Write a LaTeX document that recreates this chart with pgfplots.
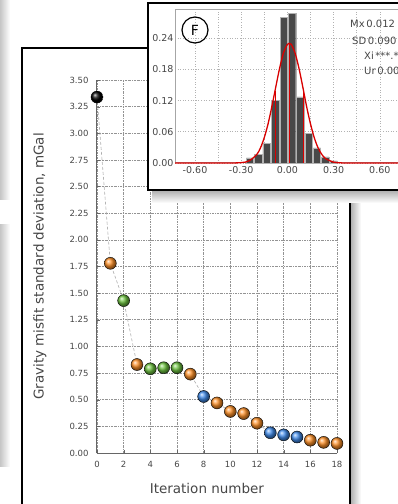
\documentclass[border=0pt]{standalone}
\usepackage{pgfplots}
\pgfplotsset{compat=1.18}
\usepackage{fontspec}
\setmainfont{DejaVu Sans}
\setsansfont{DejaVu Sans}
\definecolor{corange}{RGB}{255,145,40}
\definecolor{cgreen}{RGB}{110,195,65}
\definecolor{cblue}{RGB}{65,140,235}
\definecolor{cbar}{RGB}{72,72,72}
\definecolor{ctxt}{RGB}{70,70,70}
\begin{document}
\begin{tikzpicture}[x=1pt,y=1pt]
\useasboundingbox (0,0) rectangle (398,504);
\clip (0,0) rectangle (398,504);
% remnants of neighbouring panels
\shade[left color=gray!45, right color=white] (0,304) rectangle (10,504);
\shade[left color=gray!45, right color=white] (0,37) rectangle (10,279);
% main panel shadow and frame
\shade[left color=gray!60, right color=white] (351,0) rectangle (361,320);
\draw[line width=2.5pt] (22,-10) rectangle (350,456);

\begin{axis}[
  at={(97pt,51pt)}, anchor=south west, scale only axis,
  width=240pt, height=373pt,
  xmin=0, xmax=18, ymin=0, ymax=3.5,
  clip=false,
  separate axis lines,
  axis x line=bottom, axis y line=left,
  axis line style={-, gray!80!black, line width=1pt},
  xtick={0,2,...,18},
  ytick={0,0.25,0.5,0.75,1,1.25,1.5,1.75,2,2.25,2.5,2.75,3,3.25,3.5},
  yticklabel style={/pgf/number format/fixed, /pgf/number format/fixed zerofill, /pgf/number format/precision=2, xshift=-5pt},
  xticklabel style={yshift=-5pt},
  /pgf/number format/assume math mode=true,
  tick label style={font=\fontsize{8.5}{10}\selectfont, text=ctxt},
  tick style={gray!80!black},
  major tick length=3pt,
  tick align=inside,
  grid=major,
  major grid style={gray!85, line width=0.6pt, dash pattern=on 2pt off 1pt on 0.6pt off 1pt},
  xlabel={Iteration number},
  ylabel={Gravity misfit standard deviation, mGal},
  label style={font=\fontsize{13.5}{15}\selectfont, text=ctxt},
  xlabel style={at={(axis description cs:0.458,-0.094)}, anchor=center},
  ylabel style={at={(axis description cs:-0.2375,0.5)}, anchor=center},
]
\addplot[gray!65, densely dashed, line width=0.6pt] coordinates {
(0,3.34) (1,1.78) (2,1.43) (3,0.83) (4,0.79) (5,0.80) (6,0.80) (7,0.74)
(8,0.53) (9,0.47) (10,0.39) (11,0.37) (12,0.28) (13,0.19) (14,0.17)
(15,0.15) (16,0.12) (17,0.10) (18,0.09)};
\addplot[only marks, mark=ball, mark size=6pt, ball color=black] coordinates {(0,3.34)};
\addplot[only marks, mark=ball, mark size=6pt, ball color=corange] coordinates {
(1,1.78) (3,0.83) (7,0.74) (9,0.47) (10,0.39) (11,0.37) (12,0.28) (16,0.12) (17,0.10) (18,0.09)};
\addplot[only marks, mark=ball, mark size=6pt, ball color=cgreen] coordinates {
(2,1.43) (4,0.79) (5,0.80) (6,0.80)};
\addplot[only marks, mark=ball, mark size=6pt, ball color=cblue] coordinates {
(8,0.53) (13,0.19) (14,0.17) (15,0.15)};
\end{axis}

% inset shadow and frame
\shade[top color=gray!65, bottom color=white] (152,301) rectangle (398,314);
\draw[line width=2.5pt, fill=white] (148,314) rectangle (414,501);

\begin{axis}[
  at={(175pt,341pt)}, anchor=south west, scale only axis,
  width=251pt, height=153pt,
  xmin=-0.73, xmax=0.9, ymin=0, ymax=0.294,
  clip=false,
  axis line style={gray!70, line width=1pt},
  xtick={-0.6,-0.3,0,0.3,0.6},
  minor xtick={-0.45,-0.15,0.15,0.45,0.75},
  ytick={0,0.06,0.12,0.18,0.24},
  /pgf/number format/fixed, /pgf/number format/fixed zerofill, /pgf/number format/precision=2,
  /pgf/number format/assume math mode=true,
  tick label style={font=\fontsize{9.5}{11}\selectfont, text=ctxt},
  major tick length=0pt, minor tick length=0pt,
  yticklabel style={xshift=2pt},
  grid=both,
  major grid style={gray!60, line width=0.6pt, dotted},
  minor grid style={gray!60, line width=0.6pt, dotted},
]
\addplot[ybar, bar width=0.048, fill=cbar, draw=gray!60, line width=0.4pt] coordinates {
(-0.243,0.010) (-0.190,0.016) (-0.136,0.038) (-0.080,0.120) (-0.024,0.280)
(0.030,0.288) (0.083,0.127) (0.138,0.057) (0.192,0.029) (0.246,0.012) (0.300,0.004)};
\addplot[red!85!black, line width=1.3pt, smooth] coordinates {
(-0.73,0) (-0.40,0) (-0.30,0.0007) (-0.25,0.004) (-0.20,0.016) (-0.175,0.029)
(-0.15,0.049) (-0.125,0.076) (-0.10,0.110) (-0.075,0.147) (-0.05,0.183)
(-0.025,0.212) (0.0,0.228) (0.012,0.230) (0.025,0.228) (0.05,0.211)
(0.075,0.182) (0.10,0.146) (0.125,0.108) (0.15,0.075) (0.175,0.048)
(0.20,0.0285) (0.225,0.0158) (0.25,0.0081) (0.30,0.0017) (0.35,0.0003)
(0.40,0) (0.9,0)};
\addplot[red!85!black, line width=1pt] coordinates {(0.012,0) (0.012,0.230)};
\addplot[red!85!black, line width=0.8pt] coordinates {(-0.078,0) (-0.078,0.139)};
\addplot[red!85!black, line width=0.8pt] coordinates {(0.102,0) (0.102,0.139)};
\end{axis}

% panel letter
\draw[line width=1.2pt] (195,474) circle (13);
\node at (195,474) {\fontsize{14}{14}\selectfont F};
% statistics
\begin{scope}[every node/.style={anchor=base west, font=\fontsize{10}{11}\selectfont, text=ctxt, inner sep=0pt}]
\node at (350,476) {Mx\,0.012};
\node at (352,459) {SD\,0.090};
\node at (364,444) {Xi\,***.**};
\node at (364,429) {Ur\,0.00};
\end{scope}
\end{tikzpicture}
\end{document}
